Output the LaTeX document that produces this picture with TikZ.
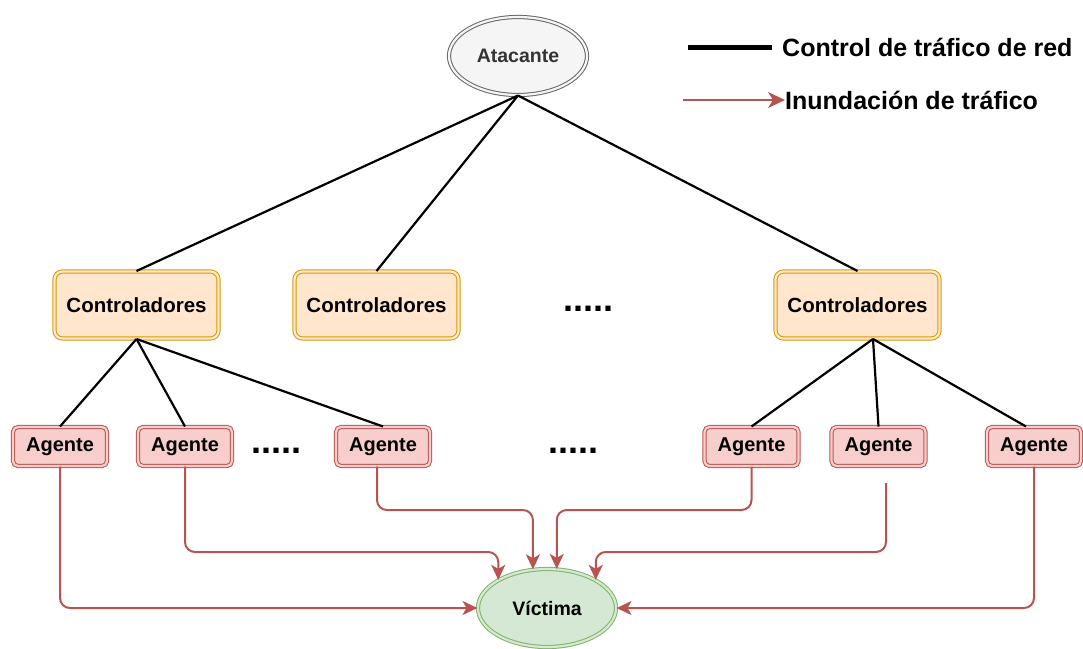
\documentclass[tikz,border=0pt]{standalone}
\usepackage{fontspec}
\setmainfont{Liberation Sans}
\usetikzlibrary{shapes.geometric,arrows.meta,calc}

\definecolor{grayfill}{HTML}{F5F5F5}
\definecolor{grayline}{HTML}{666666}
\definecolor{graytext}{HTML}{333333}
\definecolor{orfill}{HTML}{FFE6CC}
\definecolor{orline}{HTML}{D79B00}
\definecolor{redfill}{HTML}{F8CECC}
\definecolor{redline}{HTML}{B85450}
\definecolor{grnfill}{HTML}{D5E8D4}
\definecolor{grnline}{HTML}{82B366}

\tikzset{
  dbl/.style 2 args={draw=#1, double=#2, fill=#2, line width=1pt, double distance=2.2pt},
  ctrlbox/.style={rectangle, rounded corners=8pt, dbl={orline}{orfill},
    minimum width=164pt, minimum height=67pt, inner sep=0pt,
    font=\bfseries\fontsize{20.5}{24}\selectfont},
  agentbox/.style={rectangle, rounded corners=5pt, dbl={redline}{redfill},
    minimum width=94pt, minimum height=39pt, inner sep=0pt,
    font=\bfseries\fontsize{20}{24}\selectfont},
  oval/.style={ellipse, minimum width=138pt, minimum height=78pt, inner sep=0pt,
    font=\bfseries\fontsize{19.5}{24}\selectfont},
  dotsnode/.style={anchor=base west, inner sep=0pt,
    font=\bfseries\fontsize{36}{40}\selectfont},
  legendtext/.style={anchor=west, inner sep=0pt,
    font=\bfseries\fontsize{25}{30}\selectfont},
  link/.style={draw=black, line width=2.2pt},
  flood/.style={draw=redline, line width=2pt, rounded corners=10pt,
    -{Stealth[length=15pt 0,width=14pt 0,inset=4pt 0]}},
}

\begin{document}
\begin{tikzpicture}[x=1pt,y=-1pt]
\useasboundingbox (0,0) rectangle (1083,648);

% attacker, controllers, agents and victim
\node[oval, dbl={grayline}{grayfill}, text=graytext] (att) at (518,56) {Atacante};

\node[ctrlbox] (c1) at (136.5,305) {Controladores};
\node[ctrlbox] (c2) at (376.5,305) {Controladores};
\node[ctrlbox] (c3) at (857.5,305) {Controladores};

\node[agentbox] (a1) at (60,446.5) {Agente};
\node[agentbox] (a2) at (185,446.5) {Agente};
\node[agentbox] (a3) at (383,446.5) {Agente};
\node[agentbox] (a4) at (751.5,446.5) {Agente};
\node[agentbox] (a5) at (878.5,446.5) {Agente};
\node[agentbox] (a6) at (1034,446.5) {Agente};

\node[oval, dbl={grnline}{grnfill}] (vic) at (547,608) {Víctima};

% ellipsis marks
\node[dotsnode] (d1) at (563.5,311) {.....};
\node[dotsnode] (d2) at (251.5,453) {.....};
\node[dotsnode] (d3) at (548.5,453) {.....};

% control links
\draw[link] (att.south) -- (c1.north);
\draw[link] (att.south) -- (c2.north);
\draw[link] (att.south) -- (c3.north);

\draw[link] (c1.south) -- (a1.north);
\draw[link] (c1.south) -- (a2.north);
\draw[link] (c1.south) -- (a3.north);

\coordinate (c3b) at ([xshift=15.5pt]c3.south);
\draw[link] (c3b) -- (a4.north);
\draw[link] (c3b) -- (a5.north);
\draw[link] (c3b) -- ([xshift=-8pt]a6.north);

% flooding paths
\coordinate (hlow) at (0,552);
\coordinate (hhigh) at (0,510);
\coordinate (f5) at (886,483);

\draw[flood] (a1.south) |- (vic.west);
\draw[flood] (a2.south) |- (vic.150 |- hlow) -- (vic.150);
\draw[flood] ([xshift=-6pt]a3.south) |- (vic.110 |- hhigh) -- (vic.110);
\draw[flood] (a4.south) |- (vic.76 |- hhigh) -- (vic.76);
\draw[flood] (f5) |- (vic.30 |- hlow) -- (vic.30);
\draw[flood] (a6.south) |- (vic.east);

% legend
\node[legendtext] (lg1) at (782,47) {Control de tráfico de red};
\node[legendtext] (lg2) at (785,100) {Inundación de tráfico};
\coordinate (l1) at (688,47);
\coordinate (l2) at (683,100);
\draw[draw=black, line width=5pt] (l1) -- ([xshift=-10pt]lg1.west);
\draw[draw=redline, line width=1.8pt, -{Stealth[length=17pt 0,width=16pt 0,inset=5pt 0]}] (l2) -- (lg2.west);
\end{tikzpicture}
\end{document}
